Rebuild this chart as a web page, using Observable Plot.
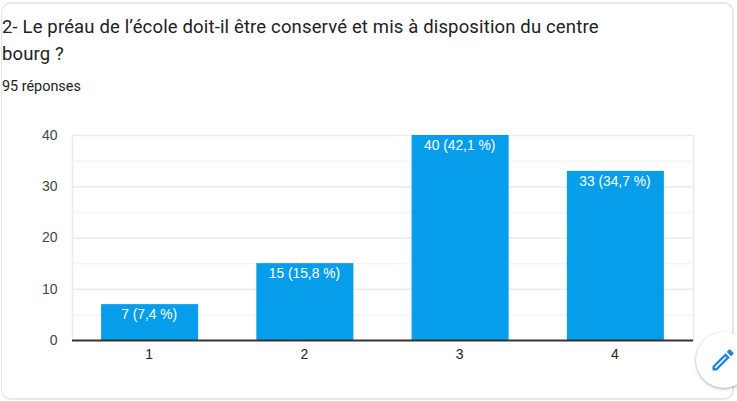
<!DOCTYPE html>
<html lang="fr">
<head>
<meta charset="utf-8">
<script src="https://cdn.jsdelivr.net/npm/d3@7"></script>
<script src="https://cdn.jsdelivr.net/npm/@observablehq/plot@0.6"></script>
<style>
html,body{margin:0;padding:0;background:#fff;width:737px;height:401px;overflow:hidden}
#card{position:absolute;left:1px;top:2px;width:730px;height:394px;border:2px solid #e8e8e8;border-left-width:1px;border-radius:10px;box-sizing:content-box}
#head{position:absolute;left:2px;top:0;width:620px;height:122px;font-family:Roboto,sans-serif;color:#202124}
#title{position:absolute;left:0;top:14px;font-size:18.5px;line-height:27px;width:610px;letter-spacing:.15px}
#sub{position:absolute;left:0;top:78px;font-size:14.4px;line-height:17px}
#chart{position:absolute;left:-0.5px;top:122px}
#fab{position:absolute;left:696px;top:332px;width:56px;height:56px;border-radius:50%;background:#fff;box-shadow:0 1px 3px rgba(0,0,0,.35)}
#fab svg{position:absolute;left:12.5px;top:14px}
</style>
</head>
<body>
<div id="card"></div>
<div id="head">
  <div id="title"></div>
  <div id="sub"></div>
</div>
<div id="chart"></div>
<div id="fab"><svg width="28" height="28" viewBox="0 0 24 24"><path fill="#1a84e0" d="M3 17.25V21h3.75L17.81 9.94l-3.75-3.75L3 17.25zM5.92 19H5v-.92l9.06-9.06.92.92L5.92 19zM20.71 7.04a1 1 0 0 0 0-1.41l-2.34-2.34a1 1 0 0 0-1.41 0l-1.83 1.83 3.75 3.75 1.83-1.83z"/></svg></div>
<script>
const titleText = "2- Le préau de l’école doit-il être conservé et mis à disposition du centre bourg ?";
const subtitleText = "95 réponses";
const categories = [1, 2, 3, 4];
const counts = [7, 15, 40, 33];
const labels = ["7 (7,4 %)", "15 (15,8 %)", "40 (42,1 %)", "33 (34,7 %)"];
const majorTicks = [0, 10, 20, 30, 40];
const minorTicks = [5, 15, 25, 35];

document.getElementById("title").textContent = titleText;
document.getElementById("sub").textContent = subtitleText;

const rows = categories.map((c, i) => ({c, n: counts[i], label: labels[i]}));
const font = "Arial, 'Liberation Sans', sans-serif";

const plot = Plot.plot({
  width: 737,
  height: 279,
  marginLeft: 72,
  marginRight: 44,
  marginTop: 13,
  marginBottom: 61,
  style: {fontFamily: font, fontSize: "14px", background: "transparent", overflow: "visible"},
  x: {domain: categories, paddingInner: 0.375, paddingOuter: 0.1875, round: false, label: null},
  y: {domain: [0, 40], label: null},
  marks: [
    Plot.frame({stroke: "#ebebeb", strokeWidth: 1.5, anchor: "left"}),
    Plot.frame({stroke: "#ebebeb", strokeWidth: 1.5, anchor: "right"}),
    Plot.ruleY(minorTicks, {stroke: "#f5f5f5", strokeWidth: 1.5}),
    Plot.ruleY(majorTicks.slice(1), {stroke: "#ebebeb", strokeWidth: 1.5}),
    Plot.barY(rows, {x: "c", y: "n", fill: "#069eea"}),
    Plot.ruleY([0], {stroke: "#333333", strokeWidth: 2}),
    Plot.text(rows, {x: "c", y: "n", text: "label", fill: "#ffffff", lineAnchor: "top", dy: 5, dx: -1, fontSize: 13.8}),
    Plot.axisY({ticks: majorTicks, tickSize: 0, tickPadding: 15, fill: "#444444", fontSize: 14, label: null}),
    Plot.axisX({tickSize: 0, tickPadding: 9, dx: -1, fill: "#222222", fontSize: 14, label: null})
  ]
});
document.getElementById("chart").appendChild(plot);
</script>
</body>
</html>
